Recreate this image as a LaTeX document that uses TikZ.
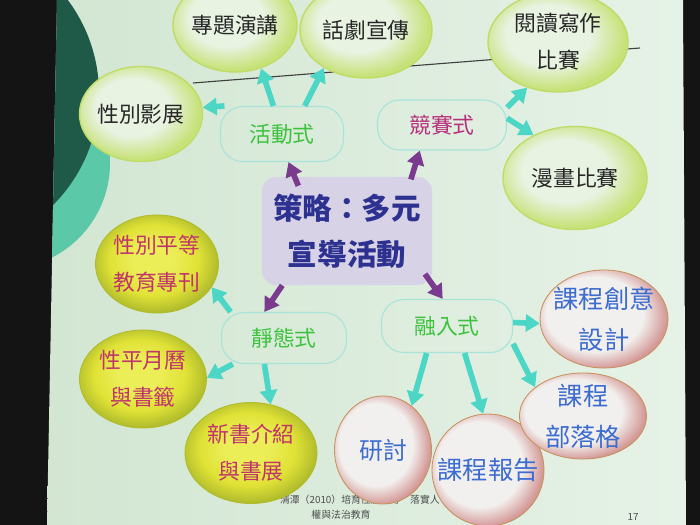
\documentclass[tikz,border=0pt]{standalone}
\usepackage{fontspec}
\setmainfont{Noto Sans CJK TC}
\usetikzlibrary{shapes.geometric, arrows.meta}

\definecolor{slideL}{HTML}{D2E6D2}
\definecolor{slideR}{HTML}{E6F2E7}
\definecolor{darkteal}{HTML}{1F5A48}
\definecolor{ringteal}{HTML}{5BC9A8}
\definecolor{boxline}{HTML}{A8E4DA}
\definecolor{ctrfill}{HTML}{D8D2E6}
\definecolor{ctrtext}{HTML}{2D3190}
\definecolor{kindgreen}{HTML}{3CC23C}
\definecolor{kindpink}{HTML}{B8307C}
\definecolor{yeltext}{HTML}{C0346C}
\definecolor{bluetext}{HTML}{3C6CD0}
\definecolor{arrteal}{HTML}{4CD6C6}
\definecolor{arrpurple}{HTML}{7A3A8E}
\definecolor{greenIn}{HTML}{E8F3E2}
\definecolor{greenOut}{HTML}{C8E27A}
\definecolor{greenLine}{HTML}{BEDC66}
\definecolor{yelIn}{HTML}{ECEE58}
\definecolor{yelMid}{HTML}{E0E236}
\definecolor{yelOut}{HTML}{B0BC2C}
\definecolor{pinkIn}{HTML}{F2F0EE}
\definecolor{pinkOut}{HTML}{D49A98}
\definecolor{pinkLine}{HTML}{C8905C}

% bubble shadings
\pgfdeclareradialshading{bubgreen}{\pgfpoint{-5bp}{5bp}}{color(0bp)=(greenIn); color(15bp)=(greenIn); color(26bp)=(greenOut); color(50bp)=(greenOut)}
\pgfdeclareradialshading{bubyellow}{\pgfpoint{-2bp}{3bp}}{color(0bp)=(yelIn); color(8bp)=(yelIn); color(18bp)=(yelMid); color(26bp)=(yelOut); color(50bp)=(yelOut)}
\pgfdeclareradialshading{bubpink}{\pgfpoint{-6bp}{4bp}}{color(0bp)=(pinkIn); color(19bp)=(pinkIn); color(27bp)=(pinkOut); color(50bp)=(pinkOut)}

\begin{document}
\begin{tikzpicture}[x=0.025cm, y=-0.025cm,
    bubble/.style={ellipse, inner sep=-10pt, align=center, font=\fontsize{15.5pt}{26.5pt}\selectfont},
    greenbub/.style={bubble, shade, shading=bubgreen, draw=greenLine, line width=1pt, text=black!85},
    yellowbub/.style={bubble, shade, shading=bubyellow, draw=yelOut, line width=0.6pt, text=yeltext},
    pinkbub/.style={bubble, shade, shading=bubpink, draw=pinkLine, line width=0.6pt, text=bluetext,
                    font=\fontsize{18pt}{29pt}\selectfont},
    kindbox/.style={draw=boxline, line width=0.8pt, rounded corners=16pt, minimum width=3.1cm, minimum height=1.3cm,
                    font=\fontsize{15.5pt}{20pt}\selectfont, text=kindgreen},
    tealarr/.style={draw=arrteal, line width=4pt, -{Triangle[length=10pt,width=12pt]}},
    purarr/.style={draw=arrpurple, line width=4pt, -{Triangle[length=10pt,width=12pt]}},
    footer/.style={font=\fontsize{7pt}{9pt}\selectfont, text=black!70, inner sep=0pt}
  ]
    \useasboundingbox (0,0) rectangle (700,525);

    % screen and slide
    \fill[black!92] (0,0) rectangle (700,525);
    \fill[left color=slideL, right color=slideR] (57,0) -- (683,0) -- (686,525) -- (47,525) -- cycle;
    \begin{scope}
        \clip (57,0) -- (683,0) -- (686,525) -- (47,525) -- cycle;
        \fill[ringteal] (4,163) circle (2.65cm);
        \fill[darkteal] (-58,94) circle (3.925cm);
    \end{scope}
    \draw[line width=0.8pt, black!75] (193,83) -- (640,48);

    % footer
    \node[footer, anchor=east] (cite1) at (440,500) {清潭（2010）培育性別平等　落實人};
    \node[footer] (cite2) at (341,515) {權與法治教育};
    \node[footer] (pgnum) at (633,517) {17};

    % center
    \node[fill=ctrfill, rounded corners=10pt, minimum width=4.25cm, minimum height=2.7cm, align=center,
          text=ctrtext, font=\fontsize{21pt}{33pt}\selectfont\bfseries] (ctr) at (347,231) {策略：多元\\宣導活動};

    % four kinds
    \node[kindbox, minimum width=3.075cm, minimum height=1.375cm] (act) at (282,134) {活動式};
    \node[kindbox, minimum width=3.225cm, minimum height=1.25cm, text=kindpink] (comp) at (442,125) {競賽式};
    \node[kindbox, minimum width=3.125cm, minimum height=1.275cm] (stat) at (284,338) {靜態式};
    \node[kindbox, minimum width=3.275cm, minimum height=1.325cm] (emb) at (447,326) {融入式};

    % activity bubbles
    \node[greenbub, minimum width=3.1cm, minimum height=2.35cm] (t1) at (235,25) {專題演講};
    \node[greenbub, minimum width=3.3cm, minimum height=2.4cm] (t2) at (366,30) {話劇宣傳};
    \node[greenbub, minimum width=3.5cm, minimum height=2.5cm] (t3) at (558,42) {閱讀寫作\\比賽};
    \node[greenbub, minimum width=3.075cm, minimum height=2.375cm] (t4) at (141,114) {性別影展};
    \node[greenbub, minimum width=3.6cm, minimum height=2.575cm] (t5) at (575,178) {漫畫比賽};

    % static bubbles
    \node[yellowbub, minimum width=3.075cm, minimum height=2.45cm] (s1) at (157,264) {性別平等\\教育專刊};
    \node[yellowbub, minimum width=3.175cm, minimum height=2.45cm] (s2) at (143,379) {性平月曆\\與書籤};
    \node[yellowbub, minimum width=3.3cm, minimum height=2.525cm] (s3) at (251,453) {新書介紹\\與書展};

    % embedded bubbles
    \node[pinkbub, minimum width=3.2cm, minimum height=2.45cm] (e1) at (604,319) {課程創意\\設計};
    \node[pinkbub, minimum width=2.425cm, minimum height=2.7cm, font=\fontsize{17pt}{24pt}\selectfont] (e3) at (383,450) {研討};
    \node[pinkbub, minimum width=2.8cm, minimum height=2.8cm] (e4) at (488,470) {課程報告};
    \node[pinkbub, minimum width=3.175cm, minimum height=2.15cm] (e2) at (583,416) {課程\\部落格};

    % center to kinds
    \draw[purarr, shorten <=-7pt] (ctr.134) -- (act.-77);
    \draw[purarr, shorten <=-2pt] (ctr.40) -- (comp.229);
    \draw[purarr] (ctr.220) -- (stat.127);
    \draw[purarr, shorten <=-9pt] (ctr.-32) -- (emb.99);

    % kinds to bubbles
    \draw[tealarr] (act.154) -- (t4.6);
    \draw[tealarr] (act.107) -- (t1.-59);
    \draw[tealarr] (act.51) -- (t2.222);
    \draw[tealarr] (comp.15) -- (t3.236);
    \draw[tealarr] (comp.6) -- (t5.134);
    \draw[tealarr] (stat.154) -- (s1.-23);
    \draw[tealarr] (stat.207) -- (s2.1);
    \draw[tealarr] (stat.233) -- (s3.68);
    \draw[tealarr] (emb.3) -- (e1.184);
    \draw[tealarr] (emb.-15) -- (e2.149);
    \draw[tealarr] (emb.233) -- (e3.57);
    \draw[tealarr] (emb.-57) -- (e4.95);
\end{tikzpicture}
\end{document}
